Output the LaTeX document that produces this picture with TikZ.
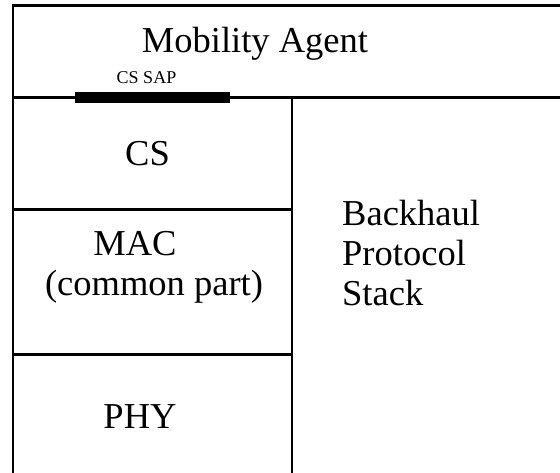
\documentclass[tikz,border=0pt]{standalone}
\usepackage{fontspec}
\setmainfont{Liberation Serif}
\begin{document}
\begin{tikzpicture}[x=1pt,y=-1pt,
  frameline/.style={line width=2.2pt, black},
  sapbar/.style={line width=11pt, black},
  bigtext/.style={font=\fontsize{36.5}{40}\selectfont, inner sep=0pt, anchor=base},
  smalltext/.style={font=\fontsize{18}{21}\selectfont, inner sep=0pt, anchor=base}]
\useasboundingbox (0,0) rectangle (560,472);
\clip (0,0) rectangle (560,472);
\fill[white] (0,0) rectangle (560,472);
% frame
\coordinate (tl) at (13,5.5);
\coordinate (tr) at (570,5.5);
\coordinate (bl) at (13,480);
\coordinate (ml) at (13,97.5);
\coordinate (mr) at (570,97.5);
\coordinate (dtop) at (292,97.5);
\coordinate (dbot) at (292,480);
\coordinate (c1l) at (13,209.5);
\coordinate (c1r) at (292,209.5);
\coordinate (c2l) at (13,354.5);
\coordinate (c2r) at (292,354.5);
\coordinate (sapL) at (75,97.5);
\coordinate (sapR) at (230,97.5);
\draw[frameline] (bl) -- (tl) -- (tr);
\draw[frameline] (ml) -- (mr);
\draw[frameline] (dtop) -- (dbot);
\draw[frameline] (c1l) -- (c1r);
\draw[frameline] (c2l) -- (c2r);
\draw[sapbar] (sapL) -- (sapR);
% texts
\node[bigtext] (ma) at (255,52) {Mobility Agent};
\node[smalltext] (sap) at (146.5,83) {CS SAP};
\node[bigtext] (cs) at (147.5,165) {CS};
\node[bigtext] (mac) at (135,255) {MAC};
\node[bigtext] (cp) at (154,295) {(common part)};
\node[bigtext] (phy) at (140,428) {PHY};
\node[bigtext, anchor=base west] (bh) at (342,225) {Backhaul};
\node[bigtext, anchor=base west] (pr) at (342,265) {Protocol};
\node[bigtext, anchor=base west] (st) at (342,305) {Stack};
\end{tikzpicture}
\end{document}
